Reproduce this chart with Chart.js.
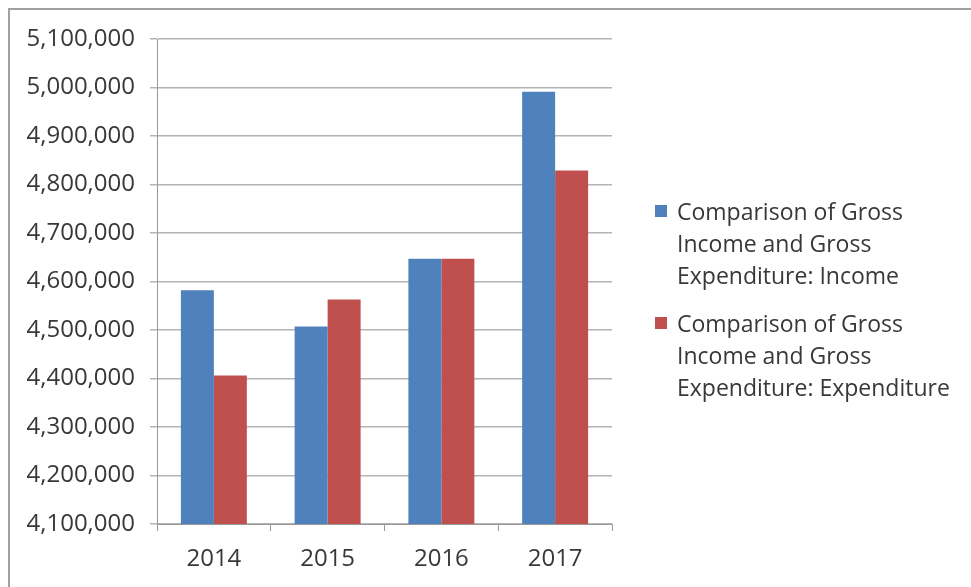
<!DOCTYPE html>
<html>
<head>
<meta charset="utf-8">
<script src="https://cdn.jsdelivr.net/npm/chart.js@4/dist/chart.umd.min.js"></script>
<style>
  html, body { margin: 0; padding: 0; background: #fff; overflow: hidden; }
  #wrap { position: relative; width: 971px; height: 587px; overflow: hidden; }
  #frame { position: absolute; left: 8px; top: 8px; width: 980px; height: 600px; border: 2px solid #a0a0a0; box-sizing: border-box; }
  #chart { position: absolute; left: 0; top: 0; }
  #legend { position: absolute; left: 655px; top: 195px; font-family: "Open Sans", sans-serif; font-size: 23px; color: #383838; line-height: 32px; }
  .item { position: relative; padding-left: 22px; margin-bottom: 16px; }
  .box { position: absolute; left: 0; top: 10px; width: 12px; height: 12px; }
</style>
</head>
<body>
<div id="wrap">
  <div id="frame"></div>
  <canvas id="chart" width="971" height="587"></canvas>
  <div id="legend"></div>
</div>
<script>
const years = ['2014', '2015', '2016', '2017'];
const income = [4582000, 4507000, 4647000, 4991000];
const expenditure = [4406000, 4563000, 4647000, 4829000];
const seriesNames = [
  ['Comparison of Gross', 'Income and Gross', 'Expenditure: Income'],
  ['Comparison of Gross', 'Income and Gross', 'Expenditure: Expenditure']
];
const colors = ['#4F81BD', '#C0504D'];
const yMin = 4100000, yMax = 5100000, yStep = 100000;

const font = { family: '"Open Sans", sans-serif', size: 24 };

new Chart(document.getElementById('chart').getContext('2d'), {
  type: 'bar',
  data: {
    labels: years,
    datasets: [
      { label: seriesNames[0].join(' '), data: income, backgroundColor: colors[0] },
      { label: seriesNames[1].join(' '), data: expenditure, backgroundColor: colors[1] }
    ]
  },
  options: {
    responsive: false,
    animation: false,
    layout: { padding: { left: 0, top: 39, right: 359, bottom: 0 } },
    datasets: { bar: { categoryPercentage: 0.58, barPercentage: 1.0 } },
    plugins: { legend: { display: false }, tooltip: { enabled: false } },
    scales: {
      x: {
        grid: { offset: true, drawOnChartArea: false, tickLength: 7, color: '#999' },
        border: { color: '#999' },
        ticks: { font: font, color: '#383838', padding: 14 },
        afterFit: function(scale) { scale.height = 63; }
      },
      y: {
        min: yMin,
        max: yMax,
        ticks: {
          stepSize: yStep,
          font: font,
          color: '#383838',
          padding: 15,
          callback: function(v) { return v.toLocaleString('en-US'); }
        },
        grid: { color: '#b4b4b4', lineWidth: 1.5, tickLength: 7 },
        border: { color: '#999' },
        afterFit: function(scale) { scale.width = 157; }
      }
    }
  }
});

const legend = document.getElementById('legend');
seriesNames.forEach(function(lines, i) {
  const item = document.createElement('div');
  item.className = 'item';
  const box = document.createElement('span');
  box.className = 'box';
  box.style.background = colors[i];
  item.appendChild(box);
  lines.forEach(function(t) {
    const d = document.createElement('div');
    d.textContent = t;
    item.appendChild(d);
  });
  legend.appendChild(item);
});
</script>
</body>
</html>
